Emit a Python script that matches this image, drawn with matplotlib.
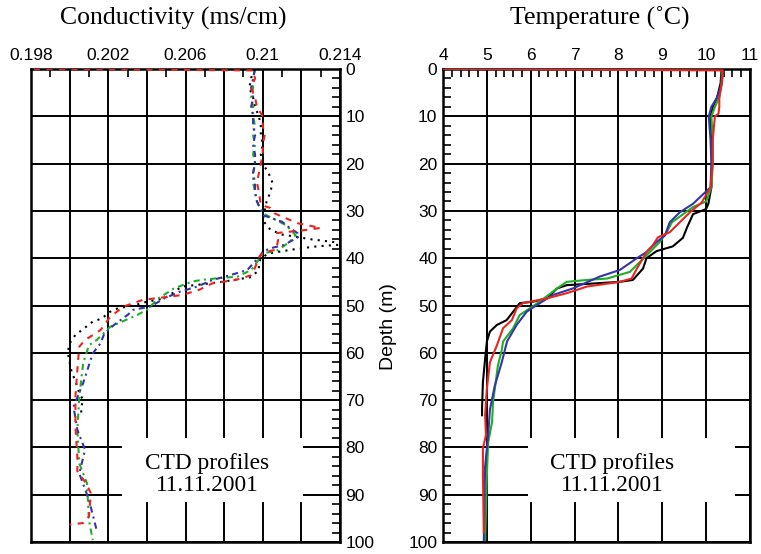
import numpy as np
import matplotlib
matplotlib.use('Agg')
import matplotlib.pyplot as plt
from matplotlib.ticker import MultipleLocator, FuncFormatter
from matplotlib.patches import Rectangle

#conductivity profiles (depth in m, conductivity in ms/cm)
k_depth = [0, 2, 4, 6, 8, 10, 12, 14, 16, 18, 20, 22, 24, 26, 28, 30, 32, 34, 35, 36, 36.5, 37, 37.5, 38,
           39, 40, 41, 42.5, 44, 45, 45.5, 46, 47.2, 48.5, 49.2, 50, 50.6, 51.5, 52.7, 53.4, 55, 56.2, 58,
           60, 62, 64, 66, 68.5, 70, 71.5, 73]
k_cond = [0.2095, 0.2094, 0.2093, 0.2095, 0.2096, 0.2098, 0.2099, 0.2099, 0.2100, 0.2099, 0.2100, 0.2103,
          0.2105, 0.2104, 0.2102, 0.2101, 0.2100, 0.2104, 0.2110, 0.2125, 0.2135, 0.2145, 0.2128, 0.2118,
          0.2103, 0.2099, 0.2098, 0.2098, 0.2094, 0.2079, 0.2069, 0.2058, 0.2054, 0.2049, 0.2040, 0.2033,
          0.2025, 0.2020, 0.2017, 0.2012, 0.2007, 0.2003, 0.2000, 0.1999, 0.2000, 0.2001, 0.2003, 0.2005,
          0.2007, 0.2006, 0.2006]

r_depth = [0, 0.3, 2, 4, 6, 8, 10, 12, 14, 16, 18, 20, 22, 24, 26, 28.7, 29.4, 30.5, 31.2, 32.6, 33.6, 34.0,
           34.7, 36, 38.2, 38.8, 40, 42, 43.6, 44.6, 45.3, 46.7, 47.8, 48.1, 48.8, 50.2, 52.4, 55.2, 57.3,
           58.7, 63.6, 69.3, 75.6, 82, 85, 87.9, 89.7, 94.6, 96, 96.3]
r_cond = [0.1975, 0.2095, 0.2096, 0.2094, 0.2096, 0.2097, 0.2100, 0.2100, 0.2101, 0.2100, 0.2100, 0.2099,
          0.2098, 0.2097, 0.2098, 0.2099, 0.2104, 0.2106, 0.2110, 0.2118, 0.2130, 0.2123, 0.2107, 0.2108,
          0.2107, 0.2100, 0.2098, 0.2096, 0.2094, 0.2086, 0.2074, 0.2067, 0.2058, 0.2052, 0.2038, 0.2028,
          0.2021, 0.2016, 0.2008, 0.2005, 0.2004, 0.2003, 0.2003, 0.2004, 0.2004, 0.2009, 0.2011, 0.2010,
          0.2007, 0.2000]

b_depth = [0, 2, 4, 6, 8, 10, 12, 14, 16, 18, 20, 22, 24, 26, 28, 30.9, 32.3, 33.3, 34.7, 35.4, 37.2, 37.9,
           38.6, 39.3, 42.5, 43.6, 44.6, 46, 47.1, 48.5, 50.2, 50.9, 52, 54.1, 55.9, 58, 60.1, 66.4, 71.4,
           76.3, 80.5, 85.5, 91.1, 97.5]
b_cond = [0.2096, 0.2095, 0.2094, 0.2095, 0.2094, 0.2095, 0.2095, 0.2096, 0.2095, 0.2096, 0.2096, 0.2095,
          0.2096, 0.2096, 0.2097, 0.2100, 0.2110, 0.2113, 0.2118, 0.2119, 0.2111, 0.2104, 0.2100, 0.2099,
          0.2092, 0.2083, 0.2074, 0.2066, 0.2057, 0.2049, 0.2042, 0.2033, 0.2030, 0.2023, 0.2018, 0.2016,
          0.2012, 0.2007, 0.2002, 0.2004, 0.2008, 0.2005, 0.2010, 0.2014]

g_depth = [0, 2, 4, 6, 8, 10, 12, 14, 16, 18, 20, 22, 24, 26, 28, 30.5, 33, 35.1, 36.5, 38.3, 39, 39.7,
           42.5, 43.9, 44.3, 44.6, 45, 46.4, 48.5, 50.9, 52, 54.5, 57.3, 58.4, 62.2, 69.3, 76.3, 83.4,
           87.6, 95.4, 99.6]
g_cond = [0.2096, 0.2095, 0.2095, 0.2094, 0.2095, 0.2095, 0.2096, 0.2095, 0.2096, 0.2095, 0.2096, 0.2095,
          0.2095, 0.2096, 0.2097, 0.2100, 0.2112, 0.2117, 0.2114, 0.2108, 0.2100, 0.2099, 0.2094, 0.2087,
          0.2075, 0.2068, 0.2063, 0.2054, 0.2046, 0.2040, 0.2035, 0.2021, 0.2014, 0.2010, 0.2007, 0.2005,
          0.2004, 0.2005, 0.2009, 0.2010, 0.2012]

#temperature profiles (depth in m, temperature in C)
kt_depth = [0, 3, 6, 8, 10, 15, 20, 25, 28.5, 29.6, 30.7, 33.6, 35.7, 37.5, 38.5, 40, 42.2, 44.6, 45, 45.7,
            46.4, 48.5, 49.2, 49.5, 51.3, 53.1, 54.1, 55.5, 57.6, 61.3, 66.2, 71.8, 73.2]
kt_temp = [10.35, 10.33, 10.25, 10.15, 10.1, 10.12, 10.13, 10.12, 10.05, 10.0, 9.7, 9.56, 9.47, 9.24, 8.87,
           8.64, 8.56, 8.33, 8.03, 6.82, 6.6, 6.37, 6.05, 5.75, 5.6, 5.45, 5.23, 5.07, 5.0, 4.96, 4.91,
           4.89, 4.89]

rt_depth = [0, 0.3, 3, 6, 8, 9.5, 10, 15, 20, 25, 28.2, 30.3, 32.4, 34.5, 35.6, 37.3, 38.7, 42.2, 44.3, 45,
            46, 47.4, 48.5, 49.5, 50.6, 53.1, 54.8, 58.4, 62, 67.6, 73.2, 77.4, 80.2, 85.2, 98]
rt_temp = [3.8, 10.38, 10.36, 10.3, 10.3, 10.28, 10.2, 10.15, 10.15, 10.1, 9.9, 9.63, 9.4, 9.17, 8.9, 8.78,
           8.64, 8.42, 8.3, 8.03, 7.28, 6.82, 6.37, 5.82, 5.68, 5.57, 5.37, 5.23, 5.07, 5.0, 4.96, 4.98,
           4.91, 4.91, 4.93]

gt_depth = [0, 3, 6, 8, 10, 15, 20, 25, 28, 29.2, 32.4, 34.5, 36.6, 39.4, 42.9, 44.3, 44.6, 45, 46.4, 49.2,
            50.6, 52, 54.8, 57.6, 59.4, 62.8, 67.7, 70.5, 74.6, 78.9, 85.9, 100]
gt_temp = [10.36, 10.35, 10.3, 10.2, 10.12, 10.15, 10.15, 10.12, 10.0, 9.7, 9.22, 9.1, 8.94, 8.64, 8.26,
           7.74, 7.28, 6.82, 6.6, 6.2, 5.98, 5.75, 5.6, 5.37, 5.34, 5.25, 5.18, 5.14, 5.12, 5.03, 5.0, 4.96]

bt_depth = [0, 3, 6, 8, 10, 15, 20, 25, 28.5, 30.3, 32.4, 35.2, 36.6, 38.7, 40, 42.5, 43.9, 46.4, 47.8, 49.9,
            51.3, 54.1, 57.6, 62, 67, 72, 77.5, 84, 100]
bt_temp = [10.38, 10.36, 10.25, 10.12, 10.06, 10.1, 10.12, 10.1, 9.7, 9.4, 9.17, 9.06, 8.87, 8.64, 8.42,
           8.03, 7.57, 6.96, 6.5, 6.14, 5.91, 5.68, 5.46, 5.34, 5.18, 5.07, 5.03, 4.96, 4.93]

RED = '#e8261f'
GREEN = '#1fae2a'
BLUE = '#3535a8'
serif = 'Liberation Serif'
sans = 'Liberation Sans'

fig = plt.figure(figsize=(7.61, 5.54), dpi=100)
ax1 = fig.add_axes([31/761, 12/554, 309/761, 473/554])
ax2 = fig.add_axes([443/761, 12/554, 307/761, 473/554])

def style_axis(ax):
    ax.set_ylim(100, 0)
    ax.yaxis.set_major_locator(MultipleLocator(10))
    ax.yaxis.set_minor_locator(MultipleLocator(2))
    ax.grid(True, which='major', color='black', linewidth=1.4)
    ax.set_axisbelow(True)
    for s in ax.spines.values():
        s.set_linewidth(1.8)
    ax.tick_params(which='major', length=0, labelsize=12.5, pad=4)
    ax.tick_params(which='minor', direction='in', length=6, width=1.2)
    for lab in ax.get_xticklabels() + ax.get_yticklabels():
        lab.set_family(sans)

#left: conductivity
ax1.plot(k_cond, k_depth, color='black', lw=1.5, ls=(0, (1, 2.5)))
ax1.plot(g_cond, g_depth, color=GREEN, lw=1.5, ls=(0, (3, 2, 1, 2)))
ax1.plot(b_cond, b_depth, color=BLUE, lw=1.5, ls=(0, (3, 2, 1, 2)))
ax1.plot(r_cond, r_depth, color=RED, lw=1.5, ls=(0, (3, 3)), zorder=3)
ax1.set_xlim(0.198, 0.214)
ax1.xaxis.set_major_locator(MultipleLocator(0.002))
ax1.xaxis.set_minor_locator(MultipleLocator(0.001))
ax1.xaxis.tick_top()
ax1.yaxis.tick_right()
style_axis(ax1)
ax1.tick_params(which='both', bottom=False, left=False, labelbottom=False, labelleft=False)
ax1.xaxis.set_major_formatter(FuncFormatter(
    lambda v, p: ('%.3f' % v).rstrip('0') if round(v * 1000) % 4 == 2 else ''))

#right: temperature
ax2.plot(kt_temp, kt_depth, color='black', lw=1.5)
ax2.plot(gt_temp, gt_depth, color=GREEN, lw=1.5)
ax2.plot(bt_temp, bt_depth, color=BLUE, lw=1.5)
ax2.plot(rt_temp, rt_depth, color=RED, lw=1.5, zorder=3)
ax2.set_xlim(4, 11)
ax2.xaxis.set_major_locator(MultipleLocator(1))
ax2.xaxis.set_minor_locator(MultipleLocator(0.2))
ax2.xaxis.tick_top()
style_axis(ax2)
ax2.tick_params(which='both', bottom=False, right=False, labelbottom=False, labelright=False)
ax2.set_ylabel('Depth (m)', family=sans, fontsize=14)
ax2.yaxis.set_label_coords(-0.15, 0.455)

#titles
fig.text(173/761, 1 - 18/554, 'Conductivity (ms/cm)', family=serif, fontsize=18.5, ha='center', va='center')
fig.text(600/761, 1 - 18/554, 'Temperature (\u02daC)', family=serif, fontsize=18.5, ha='center', va='center')

#white label boxes
for ax, (x0, x1) in [(ax1, (0.294, 0.880)), (ax2, (0.277, 0.951))]:
    ax.add_patch(Rectangle((x0, 0.085), x1 - x0, 0.135, transform=ax.transAxes,
                           facecolor='white', edgecolor='none', zorder=1))
ax1.text(0.57, 0.142, 'CTD profiles\n11.11.2001', transform=ax1.transAxes, ha='center', va='center',
         family=serif, fontsize=16.8, linespacing=1.05, zorder=3)
ax2.text(0.551, 0.142, 'CTD profiles\n11.11.2001', transform=ax2.transAxes, ha='center', va='center',
         family=serif, fontsize=16.8, linespacing=1.05, zorder=3)

fig.savefig('out.png', dpi=100)
